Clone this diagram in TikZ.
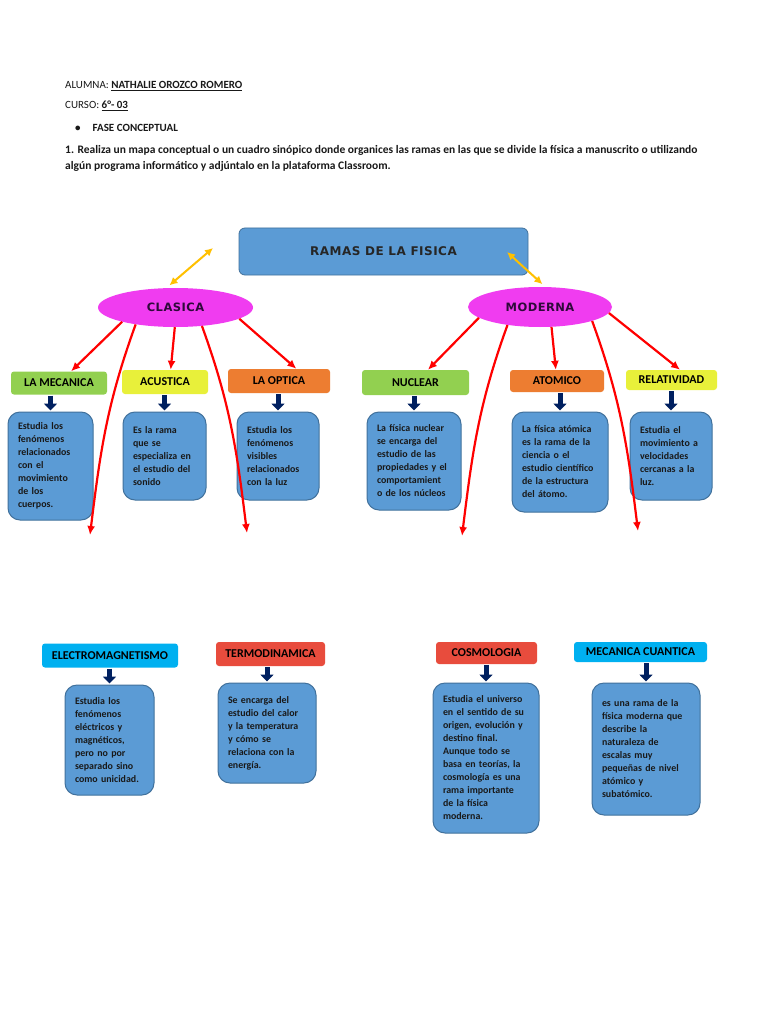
\documentclass[tikz,border=0pt]{standalone}
\usepackage{fontspec}
\setmainfont{Carlito}
\newfontfamily\titlefont{DejaVu Sans}[LetterSpace=4]
\usetikzlibrary{shapes.geometric}
\usetikzlibrary{arrows.meta}
\definecolor{boxblue}{HTML}{5B9BD5}
\definecolor{boxline}{HTML}{41719C}
\definecolor{rosa}{HTML}{F03CF0}
\definecolor{verde}{HTML}{92D050}
\definecolor{amarillo}{HTML}{E8F03A}
\definecolor{naranja}{HTML}{ED7D31}
\definecolor{rojo}{HTML}{E84C3D}
\definecolor{celeste}{HTML}{00B0F0}
\definecolor{marino}{HTML}{002060}
\definecolor{oro}{HTML}{FFC000}
\definecolor{morado}{HTML}{2E0A3A}
\tikzset{
	hdr/.style={inner sep=0pt, text=black!90, font=\fontsize{11}{16}\selectfont},
	titulo/.style={rectangle, rounded corners=6pt, fill=boxblue, draw=boxline, line width=0.8pt, text=black!85, font=\titlefont\bfseries\fontsize{12}{12}\selectfont},
	grupo/.style={ellipse, fill=rosa, inner sep=0pt, text=morado, font=\titlefont\bfseries\fontsize{11.5}{11.5}\selectfont},
	rama/.style={rectangle, rounded corners=3pt, inner sep=0pt, text=black, font=\fontsize{12}{12}\selectfont\bfseries},
	desc/.style={rectangle, rounded corners=12pt, draw=boxline, line width=1pt, fill=boxblue, inner xsep=10pt, inner ysep=0pt, align=left, text=black!90, font=\fontsize{9.9}{13}\selectfont\bfseries},
	flecha/.style={draw=red, line width=2.2pt, -{Latex[length=9pt,width=8pt]}},
	baja/.style={draw=marino, line width=5pt, -{Triangle[length=7pt,width=13pt]}, shorten <=1pt, shorten >=1pt},
	doble/.style={draw=oro, line width=2pt, {Latex[length=8pt,width=8pt]}-{Latex[length=8pt,width=8pt]}},
}
\begin{document}
\begin{tikzpicture}[x=1pt,y=-1pt]
	\fill[white] (0,0) rectangle (768,1024);
	\useasboundingbox (0,0) rectangle (768,1024);
	% encabezado
	\node[hdr, anchor=base west] (alumna) at (65,89) {ALUMNA: \textbf{\underline{NATHALIE OROZCO ROMERO}}};
	\node[hdr, anchor=base west] (curso) at (65,109) {CURSO: \textbf{\underline{6°- 03}}};
	\node[hdr, anchor=base west, font=\fontsize{11}{16}\selectfont\bfseries] (fase) at (75,132) {\textbullet\hspace{12pt}FASE CONCEPTUAL};
	\node[hdr, anchor=base west, align=left, font=\fontsize{11.5}{16}\selectfont\bfseries] (tarea) at (65,170) {1. Realiza un mapa conceptual o un cuadro sinópico donde organices las ramas en las que se divide la física a manuscrito o utilizando\\algún programa informático y adjúntalo en la plataforma Classroom.};
	% titulo y grupos
	\node[titulo, minimum width=289pt, minimum height=47pt] (ramas) at (383.5,251.5) {RAMAS DE LA FISICA};
	\node[grupo, minimum width=155pt, minimum height=39pt] (clasica) at (175.5,307.5) {CLASICA};
	\node[grupo, minimum width=144pt, minimum height=40pt] (moderna) at (540,307) {MODERNA};
	\coordinate (oroL) at (213,248);
	\coordinate (oroR) at (507,252);
	\draw[doble, shorten <=4pt] (clasica.115) -- (oroL);
	\draw[doble, shorten >=4pt] (oroR) -- (moderna.75);
	% ramas de arriba
	\node[rama, fill=verde, minimum width=96pt, minimum height=23pt] (mec) at (59,383) {LA MECANICA};
	\node[rama, fill=amarillo, minimum width=86pt, minimum height=24pt] (aco) at (165,382) {ACUSTICA};
	\node[rama, fill=naranja, minimum width=102pt, minimum height=24pt] (opt) at (279,381) {LA OPTICA};
	\node[rama, fill=verde, minimum width=107pt, minimum height=25pt] (nuc) at (415.5,382.5) {NUCLEAR};
	\node[rama, fill=naranja, minimum width=94pt, minimum height=22pt] (ato) at (557,381) {ATOMICO};
	\node[rama, fill=amarillo, minimum width=91pt, minimum height=20pt] (rel) at (671.5,380) {RELATIVIDAD};
	\node[desc, text width=65pt, minimum height=108pt] (mecd) at (50.5,466) {Estudia los\\fenómenos\\relacionados\\con el\\movimiento\\de los\\cuerpos.};
	\node[desc, text width=63pt, minimum height=88pt] (acod) at (164.5,456) {Es la rama\\que se\\especializa en\\el estudio del\\sonido};
	\node[desc, text width=62pt, minimum height=88pt] (optd) at (278,456) {Estudia los\\fenómenos\\visibles\\relacionados\\con la luz};
	\node[desc, text width=74pt, minimum height=98pt] (nucd) at (414,461) {La física nuclear\\se encarga del\\estudio de las\\propiedades y el\\comportamient\\o de los núcleos};
	\node[desc, text width=76pt, minimum height=100pt] (atod) at (560,462) {La física atómica\\es la rama de la\\ciencia o el\\estudio científico\\de la estructura\\del átomo.};
	\node[desc, text width=62pt, minimum height=88pt] (reld) at (671,456) {Estudia el\\movimiento a\\velocidades\\cercanas a la\\luz.};
	\foreach \a in {mec,aco,opt,nuc,ato,rel}
		\draw[baja] (\a d.north |- \a.south) -- (\a d.north);
	% flechas rojas
	\coordinate (cl1) at (90,535);
	\coordinate (cl2) at (247,533);
	\coordinate (mo1) at (462,536);
	\coordinate (mo2) at (638,531);
	\draw[flecha] (clasica.195) -- (mec);
	\draw[flecha] (clasica.268) -- (aco.65);
	\draw[flecha] (clasica.350) -- (opt.35);
	\draw[flecha] (clasica.203) to[out=250,in=83] (cl1);
	\draw[flecha] (clasica.325) to[out=290,in=97] (cl2);
	\draw[flecha] (moderna.190) -- (nuc);
	\draw[flecha] (moderna.300) -- (ato);
	\draw[flecha] (moderna.355) -- (rel.50);
	\draw[flecha] (moderna.209) to[out=250,in=83] (mo1);
	\draw[flecha] (moderna.345) to[out=290,in=97] (mo2);
	% ramas de abajo
	\node[rama, fill=celeste, minimum width=136pt, minimum height=24pt] (ele) at (110,655.5) {ELECTROMAGNETISMO};
	\node[rama, fill=rojo, minimum width=109pt, minimum height=24pt] (ter) at (270.5,654) {TERMODINAMICA};
	\node[rama, fill=rojo, minimum width=101pt, minimum height=22pt] (cos) at (486.5,653) {COSMOLOGIA};
	\node[rama, fill=celeste, minimum width=133pt, minimum height=20pt] (cua) at (640.5,652) {MECANICA CUANTICA};
	\node[desc, text width=69pt, minimum height=110pt] (eled) at (109.5,740) {Estudia los\\fenómenos\\eléctricos y\\magnéticos,\\pero no por\\separado sino\\como unicidad.};
	\node[desc, text width=78pt, minimum height=100pt] (terd) at (267,733) {Se encarga del\\estudio del calor\\y la temperatura\\y cómo se\\relaciona con la\\energía.};
	\node[desc, text width=86pt, minimum height=150pt] (cosd) at (486,758) {Estudia el universo\\en el sentido de su\\origen, evolución y\\destino final.\\Aunque todo se\\basa en teorías, la\\cosmología es una\\rama importante\\de la física\\moderna.};
	\node[desc, text width=88pt, minimum height=132pt] (cuad) at (646,749) {es una rama de la\\física moderna que\\describe la\\naturaleza de\\escalas muy\\pequeñas de nivel\\atómico y\\subatómico.};
	\foreach \a in {ele,ter,cos,cua}
		\draw[baja] (\a d.north |- \a.south) -- (\a d.north);
\end{tikzpicture}
\end{document}
